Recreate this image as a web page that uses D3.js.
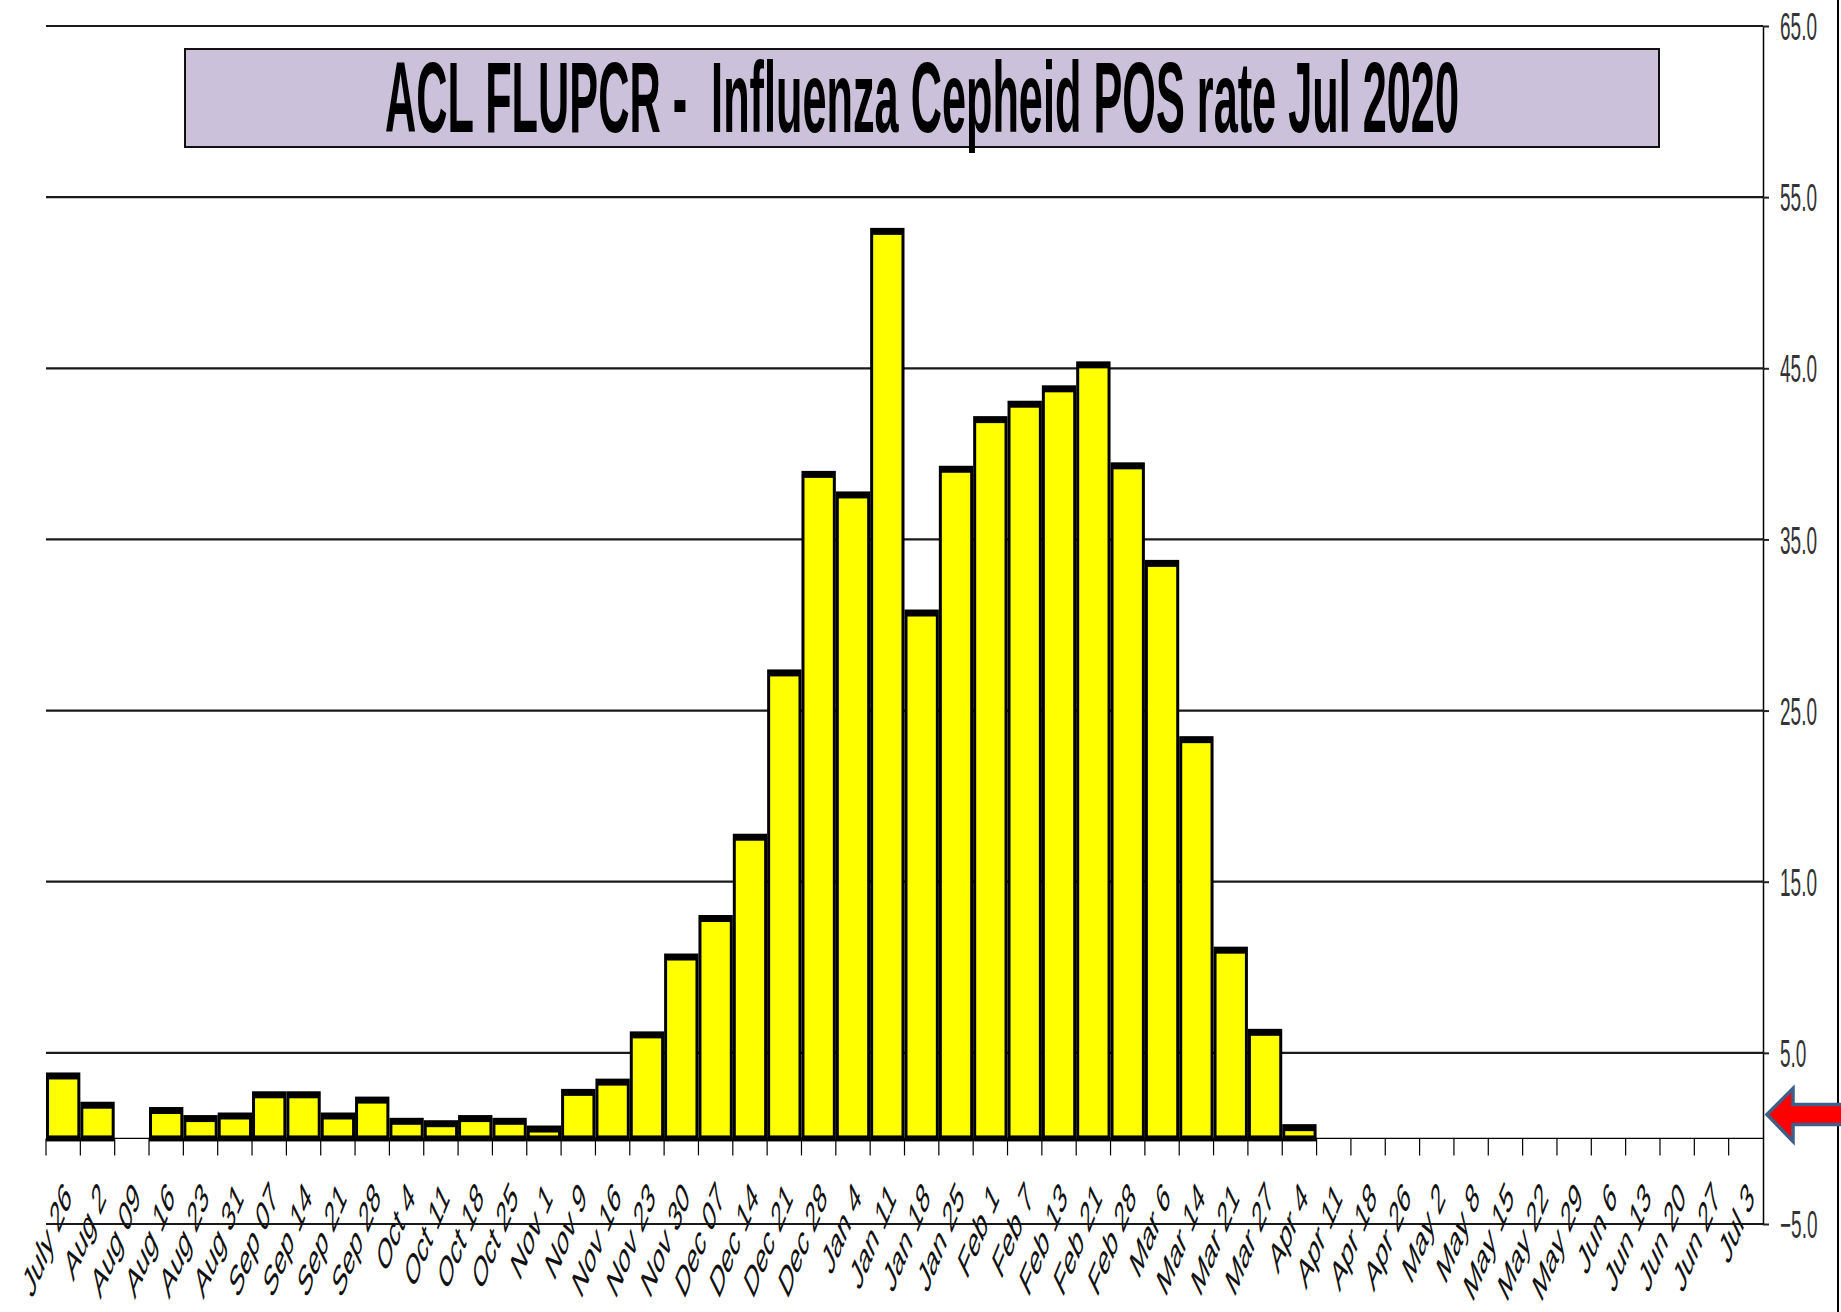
<!DOCTYPE html>
<html>
<head>
<meta charset="utf-8">
<script src="https://cdn.jsdelivr.net/npm/d3@7"></script>
<style>
  html, body { margin: 0; padding: 0; background: #fff; }
  svg { display: block; }
</style>
</head>
<body>
<div id="chart"></div>
<script>
// week labels along the x axis
var weeks = ["July 26", "Aug 2", "Aug 09", "Aug 16", "Aug 23", "Aug 31", "Sep 07", "Sep 14",
  "Sep 21", "Sep 28", "Oct 4", "Oct 11", "Oct 18", "Oct 25", "Nov 1", "Nov 9", "Nov 16",
  "Nov 23", "Nov 30", "Dec 07", "Dec 14", "Dec 21", "Dec 28", "Jan 4", "Jan 11", "Jan 18",
  "Jan 25", "Feb 1", "Feb 7", "Feb 13", "Feb 21", "Feb 28", "Mar 6", "Mar 14", "Mar 21",
  "Mar 27", "Apr 4", "Apr 11", "Apr 18", "Apr 26", "May 2", "May 8", "May 15", "May 22",
  "May 29", "Jun 6", "Jun 13", "Jun 20", "Jun 27", "Jul 3"];

// positive rate (%) per week, null = no data
var posRate = [3.65, 1.94, null, 1.63, 1.16, 1.31, 2.55, 2.55,
  1.31, 2.24, 1.0, 0.86, 1.16, 1.0, 0.55, 2.69, 3.29,
  6.05, 10.6, 12.85, 17.6, 27.2, 38.8, 37.6, 53.0, 30.7,
  39.1, 42.0, 42.9, 43.8, 45.2, 39.3, 33.6, 23.3, 11.0,
  6.2, 0.63, null, null, null, null, null, null, null,
  null, null, null, null, null, null];

var yTicks = [-5, 5, 15, 25, 35, 45, 55, 65];
var chartTitle = "ACL FLUPCR -  Influenza Cepheid POS rate Jul 2020";
var markerValue = 1.4;   // red arrow on the right side

var W = 1841, H = 1312;
var plotLeft = 46, plotRight = 1763, plotTop = 26, plotBottom = 1224;
var font = "'Liberation Sans', Arial, sans-serif";

var svg = d3.select("#chart").append("svg")
  .attr("width", W)
  .attr("height", H);

var x = d3.scaleBand().domain(weeks).range([plotLeft, plotRight]).padding(0);
var y = d3.scaleLinear().domain([-5, 65]).range([plotBottom, plotTop]);
var bw = x.bandwidth();

// gridlines
svg.append("g").selectAll("line")
  .data(yTicks)
  .enter().append("line")
  .attr("x1", plotLeft)
  .attr("x2", plotRight)
  .attr("y1", function(d) { return y(d); })
  .attr("y2", function(d) { return y(d); })
  .attr("stroke", "#1a1a1a")
  .attr("stroke-width", 2.2);

// zero line
svg.append("line")
  .attr("x1", plotLeft).attr("x2", plotRight)
  .attr("y1", y(0)).attr("y2", y(0))
  .attr("stroke", "#000").attr("stroke-width", 1.2);

// x ticks at category boundaries
svg.append("g").selectAll("line")
  .data(weeks)
  .enter().append("line")
  .attr("x1", function(d) { return x(d); })
  .attr("x2", function(d) { return x(d); })
  .attr("y1", y(0))
  .attr("y2", y(0) + 17)
  .attr("stroke", "#000")
  .attr("stroke-width", 1.2);

// bars: black frame with yellow inside
var bars = weeks.map(function(w, i) { return { week: w, value: posRate[i] }; })
  .filter(function(d) { return d.value !== null; });

svg.append("g").selectAll("rect")
  .data(bars)
  .enter().append("rect")
  .attr("x", function(d) { return x(d.week); })
  .attr("width", bw)
  .attr("y", function(d) { return y(d.value) - 3.5; })
  .attr("height", function(d) { return y(0) + 3 - (y(d.value) - 3.5); })
  .attr("fill", "#000");

svg.append("g").selectAll("rect")
  .data(bars)
  .enter().append("rect")
  .attr("x", function(d) { return x(d.week) + 3; })
  .attr("width", bw - 6)
  .attr("y", function(d) { return y(d.value) + 3.5; })
  .attr("height", function(d) { return Math.max(0, y(0) - 3 - (y(d.value) + 3.5)); })
  .attr("fill", "#ffff00");

// right value axis
var yAxis = d3.axisRight(y)
  .tickValues(yTicks)
  .tickSize(6)
  .tickSizeOuter(0)
  .tickFormat(d3.format(".1f"));

var gy = svg.append("g")
  .attr("transform", "translate(" + plotRight + ",0)")
  .call(yAxis);

gy.select(".domain").attr("stroke", "#000").attr("stroke-width", 1.5);
gy.selectAll(".tick line").attr("stroke", "#222").attr("stroke-width", 2);
gy.selectAll(".tick text")
  .attr("x", null)
  .attr("dy", "0.36em")
  .attr("transform", "translate(17,0) scale(0.5,1)")
  .attr("fill", "#333")
  .style("font-family", font)
  .style("font-size", "38px");

// category labels, rotated and squeezed
svg.append("g").selectAll("text")
  .data(weeks)
  .enter().append("text")
  .attr("transform", function(d) {
    return "translate(" + (x(d) + bw / 2 + 9.5) + "," + 1199 + ") scale(0.45,1) rotate(-48)";
  })
  .attr("text-anchor", "end")
  .style("font-family", font)
  .style("font-size", "43px")
  .attr("fill", "#111")
  .text(function(d) { return d; });

// title box
svg.append("rect")
  .attr("x", 185).attr("y", 49)
  .attr("width", 1474).attr("height", 98)
  .attr("fill", "#ccc1da")
  .attr("stroke", "#111")
  .attr("stroke-width", 2);

svg.append("text")
  .attr("x", 922).attr("y", 132)
  .attr("text-anchor", "middle")
  .attr("textLength", 1074)
  .attr("lengthAdjust", "spacingAndGlyphs")
  .style("white-space", "pre")
  .style("font-family", font)
  .style("font-weight", "bold")
  .style("font-size", "100px")
  .attr("fill", "#000")
  .text(chartTitle);

// right border
svg.append("line")
  .attr("x1", 1838).attr("x2", 1838)
  .attr("y1", 0).attr("y2", H)
  .attr("stroke", "#000").attr("stroke-width", 2);

// arrow marker
var ax = plotRight + 4, ay = y(markerValue);
svg.append("path")
  .attr("d", "M" + ax + "," + ay +
    " L" + (ax + 26) + "," + (ay - 26) +
    " L" + (ax + 26) + "," + (ay - 10) +
    " L" + (W + 5) + "," + (ay - 10) +
    " L" + (W + 5) + "," + (ay + 10) +
    " L" + (ax + 26) + "," + (ay + 10) +
    " L" + (ax + 26) + "," + (ay + 27) + " Z")
  .attr("fill", "#ff0000")
  .attr("stroke", "#3e5f8a")
  .attr("stroke-width", 3.5)
  .attr("stroke-linejoin", "miter");
</script>
</body>
</html>
